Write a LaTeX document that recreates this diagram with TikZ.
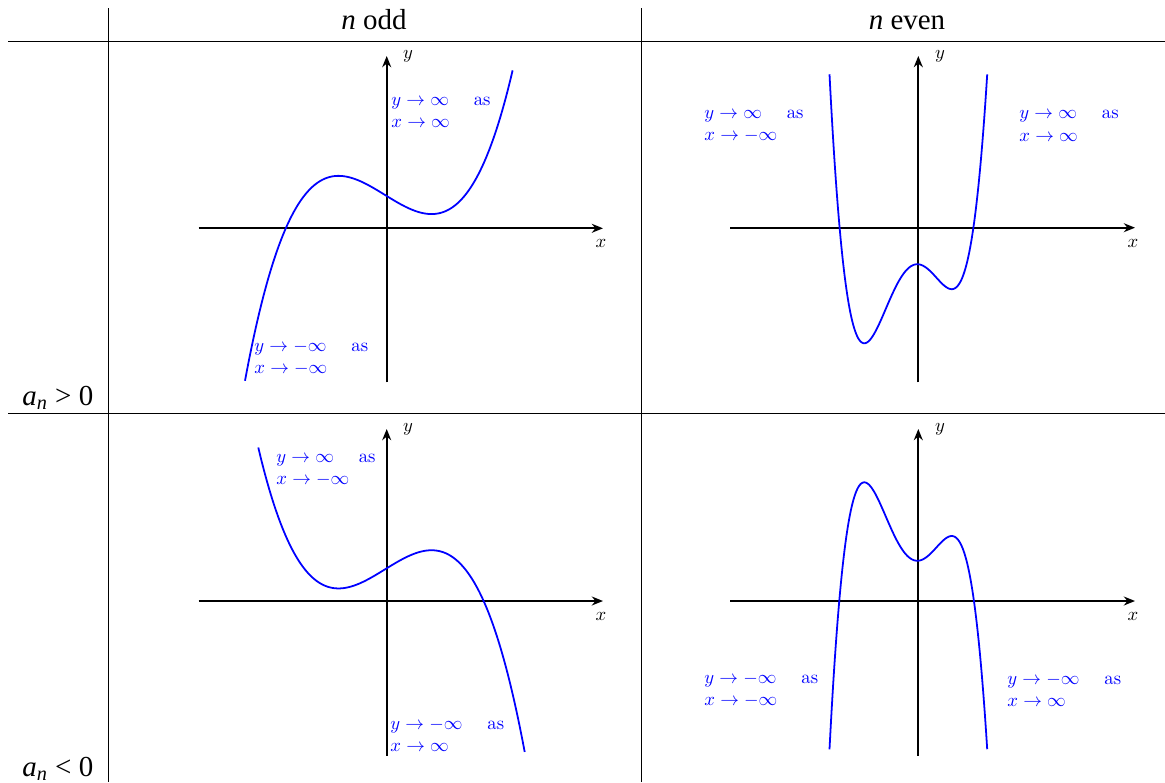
\documentclass[tikz,border=0pt]{standalone}
\usepackage{fontspec}
\newfontfamily\tms{Liberation Serif}
\usetikzlibrary{arrows.meta}
\begin{document}
\begin{tikzpicture}[x=0.535pt,y=-0.535pt,
  rule/.style={line width=0.5pt},
  axis/.style={line width=0.95pt,-{Stealth[length=6pt,width=4.8pt]}},
  curve/.style={blue,line width=0.95pt},
  note/.style={blue,inner sep=0pt,align=left,anchor=west},
  head/.style={font=\tms\fontsize{15.5}{18}\selectfont,inner sep=0pt,anchor=base},
  axlabel/.style={inner sep=0pt}
]
\useasboundingbox (0,0) rectangle (1165,782);
% table rules
\draw[rule] (8,41) -- (1165,41);
\draw[rule] (8,413) -- (1165,413);
\draw[rule] (108,8) -- (108,782);
\draw[rule] (641,8) -- (641,782);
% headers
\node[head] (h1) at (374,30) {\textit{n} odd};
\node[head] (h2) at (907,30) {\textit{n} even};
\node[head,anchor=base west] (r1) at (22,405) {\textit{a}\textsubscript{\textit{n}} > 0};
\node[head,anchor=base west] (r2) at (22,776) {\textit{a}\textsubscript{\textit{n}} < 0};

% ---------- panel 1 ----------
\coordinate (a1xs) at (198.7,228.3); \coordinate (a1xe) at (603,228.3);
\coordinate (a1ys) at (386.7,382.3); \coordinate (a1ye) at (386.7,56);
\draw[axis] (a1xs) -- (a1xe);
\draw[axis] (a1ys) -- (a1ye);
\node[axlabel] (l1x) at (601,243) {$x$};
\node[axlabel] (l1y) at (408,56) {$y$};
\draw[curve] plot[domain=-1.417:1.26,samples=160,smooth]
  ({386.7+100*\x},{228.3-(94*\x*\x*\x+4.794*\x*\x-61.42*\x+2.45*\x*\x*\x*\x*\x+32.3)});
\node[note] (n1a) at (391,112.5) {$y\to\infty$ \quad as\\$x\to\infty$};
\node[note] (n1b) at (254,358) {$y\to-\infty$ \quad as\\$x\to-\infty$};

% ---------- panel 2 ----------
\coordinate (a2xs) at (730,227.7); \coordinate (a2xe) at (1135,227.7);
\coordinate (a2ys) at (918.3,382.3); \coordinate (a2ye) at (918.3,56);
\draw[axis] (a2xs) -- (a2xe);
\draw[axis] (a2ys) -- (a2ye);
\node[axlabel] (l2x) at (1133,243) {$x$};
\node[axlabel] (l2y) at (940,56) {$y$};
\draw[curve] plot[domain=-0.888:0.689,samples=160,smooth]
  ({918.3+100*\x},{227.7-(1307.5*(\x*\x*\x*\x+0.288*\x*\x*\x-0.3566*\x*\x-0.0072*\x)-36.6)});
\node[note] (n2a) at (704,126) {$y\to\infty$ \quad as\\$x\to-\infty$};
\node[note] (n2b) at (1019,126) {$y\to\infty$ \quad as\\$x\to\infty$};

% ---------- panel 3 ----------
\coordinate (a3xs) at (198.7,601); \coordinate (a3xe) at (603,601);
\coordinate (a3ys) at (386.7,755.5); \coordinate (a3ye) at (386.7,429);
\draw[axis] (a3xs) -- (a3xe);
\draw[axis] (a3ys) -- (a3ye);
\node[axlabel] (l3x) at (601,616) {$x$};
\node[axlabel] (l3y) at (408,429) {$y$};
\draw[curve] plot[domain=-1.284:1.38,samples=160,smooth]
  ({386.7+100*\x},{601-(65-(94*\x*\x*\x+4.794*\x*\x-61.42*\x+2.45*\x*\x*\x*\x*\x+32.3))});
\node[note] (n3a) at (276,470) {$y\to\infty$ \quad as\\$x\to-\infty$};
\node[note] (n3b) at (390,735) {$y\to-\infty$ \quad as\\$x\to\infty$};

% ---------- panel 4 ----------
\coordinate (a4xs) at (730,601); \coordinate (a4xe) at (1135,601);
\coordinate (a4ys) at (918.3,755.5); \coordinate (a4ye) at (918.3,429);
\draw[axis] (a4xs) -- (a4xe);
\draw[axis] (a4ys) -- (a4ye);
\node[axlabel] (l4x) at (1133,616) {$x$};
\node[axlabel] (l4y) at (940,429) {$y$};
\draw[curve] plot[domain=-0.888:0.689,samples=160,smooth]
  ({918.3+100*\x},{601-(40.3-1297.6*(\x*\x*\x*\x+0.288*\x*\x*\x-0.3566*\x*\x-0.0072*\x))});
\node[note] (n4a) at (704,690) {$y\to-\infty$ \quad as\\$x\to-\infty$};
\node[note] (n4b) at (1007,690) {$y\to-\infty$ \quad as\\$x\to\infty$};
\end{tikzpicture}
\end{document}
